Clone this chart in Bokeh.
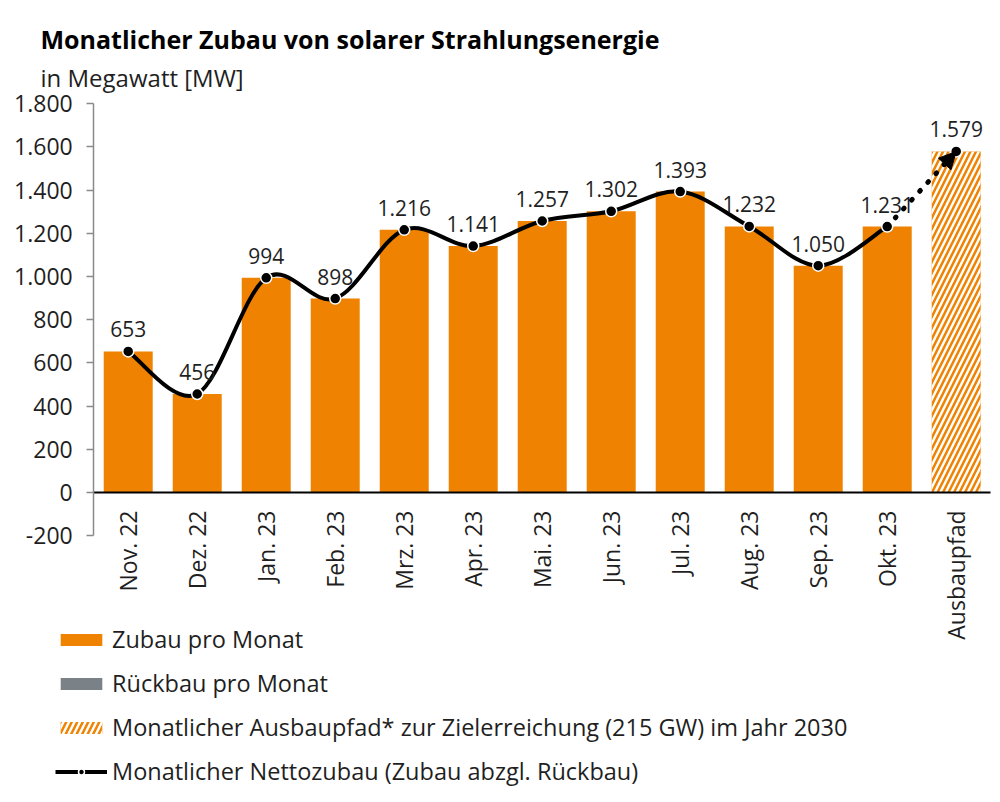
from bokeh.plotting import figure
from bokeh.models import (FixedTicker, Label, Legend, LegendItem, Arrow, NormalHead, Range1d)
from bokeh.core.properties import value
from bokeh.embed import file_html
from bokeh.resources import INLINE
import math

# ---- data ----
categories = ["Nov. 22", "Dez. 22", "Jan. 23", "Feb. 23", "Mrz. 23", "Apr. 23", "Mai. 23",
              "Jun. 23", "Jul. 23", "Aug. 23", "Sep. 23", "Okt. 23", "Ausbaupfad"]
zubau = [653, 456, 994, 898, 1216, 1141, 1257, 1302, 1393, 1232, 1050, 1231]
rueckbau = [0, 0, 0, 0, 0, 0, 0, 0, 0, 0, 0, 0]
netto = [653, 456, 994, 898, 1216, 1141, 1257, 1302, 1393, 1232, 1050, 1231]
ausbaupfad = 1579
value_labels = ["653", "456", "994", "898", "1.216", "1.141", "1.257", "1.302", "1.393",
                "1.232", "1.050", "1.231", "1.579"]
y_ticks = [-200, 0, 200, 400, 600, 800, 1000, 1200, 1400, 1600, 1800]
y_tick_labels = ["-200", "0", "200", "400", "600", "800", "1.000", "1.200", "1.400",
                 "1.600", "1.800"]

ORANGE = "#ef8200"
GRAY = "#7b8287"
FONT = "Open Sans"
TXT = "#1f1f1f"

W, H = 992, 802
n = len(zubau)
xs = list(range(n))
ncat = len(categories)

# the frame fills the whole canvas; axes are pinned inside it
p = figure(width=W, height=H, output_backend="svg", toolbar_location=None,
           x_range=Range1d(-1.851, -1.851 + W / 69.0),
           y_range=Range1d(-(H - 492) / 0.216, 492 / 0.216),
           min_border=0)
p.outline_line_color = None
p.grid.visible = False

# bars
bars = p.vbar(x=xs, top=zubau, width=0.71, fill_color=ORANGE, line_color=None)
rb = p.vbar(x=xs, top=[-v for v in rueckbau], width=0.71, fill_color=GRAY, line_color=None)
hb = p.vbar(x=[n], top=[ausbaupfad], width=0.71, fill_color=ORANGE, line_color=None,
            hatch_pattern="/", hatch_color="white", hatch_weight=2.5, hatch_scale=11)

# smooth curve through net points (cubic bezier, Catmull-Rom style control points)
pts = list(zip(xs, netto))
x0, y0, x1, y1, cx0, cy0, cx1, cy1 = [], [], [], [], [], [], [], []
for i in range(len(pts) - 1):
    pm = pts[i - 1] if i > 0 else pts[i]
    pa = pts[i]
    pb = pts[i + 1]
    pn = pts[i + 2] if i + 2 < len(pts) else pts[i + 1]
    x0.append(pa[0]); y0.append(pa[1]); x1.append(pb[0]); y1.append(pb[1])
    cx0.append(pa[0] + (pb[0] - pm[0]) / 6); cy0.append(pa[1] + (pb[1] - pm[1]) / 6)
    cx1.append(pb[0] - (pn[0] - pa[0]) / 6); cy1.append(pb[1] - (pn[1] - pa[1]) / 6)
curve = p.bezier(x0=x0, y0=y0, x1=x1, y1=y1, cx0=cx0, cy0=cy0, cx1=cx1, cy1=cy1,
                 line_color="black", line_width=4)

# dotted path to target with arrow
p.add_layout(Arrow(x_start=xs[-1], y_start=netto[-1], x_end=n, y_end=ausbaupfad,
                   line_color="black", line_width=5, line_dash="1 11", line_cap="round",
                   end=NormalHead(size=17, fill_color="black", line_color="black")))

# markers
all_x = xs + [n]
all_y = netto + [ausbaupfad]
dots = p.scatter(x=all_x, y=all_y, size=11, fill_color="black", line_color="white",
                 line_width=1.5)

# value labels
p.text(x=all_x, y=all_y, text=value_labels, text_align="center", text_baseline="alphabetic",
       y_offset=-22, text_font=value(FONT), text_font_size="21px", text_color=TXT)

# y axis pinned at the left edge of the category area
yax = p.yaxis[0]
yax.fixed_location = -0.5
yax.bounds = (y_ticks[0], y_ticks[-1])
yax.ticker = FixedTicker(ticks=y_ticks)
yax.major_label_overrides = dict(zip(y_ticks, y_tick_labels))
yax.axis_line_color = "#8a8a8a"
yax.axis_line_width = 1.5
yax.major_tick_line_color = "#8a8a8a"
yax.major_tick_line_width = 1.5
yax.major_tick_out = 7
yax.major_tick_in = 0
yax.minor_tick_line_color = None
yax.major_label_text_font = FONT
yax.major_label_text_font_size = "23px"
yax.major_label_text_color = TXT
yax.major_label_standoff = 14

# x axis pinned at zero (acts as the black zero line)
xax = p.xaxis[0]
xax.fixed_location = 0
xax.bounds = (-0.5, ncat - 0.5)
xax.ticker = FixedTicker(ticks=all_x)
xax.major_label_overrides = dict(zip(all_x, categories))
xax.major_label_orientation = math.pi / 2
xax.axis_line_color = "black"
xax.axis_line_width = 2
xax.major_tick_line_color = None
xax.minor_tick_line_color = None
xax.major_label_standoff = 12
xax.major_label_text_font = FONT
xax.major_label_text_font_size = "23px"
xax.major_label_text_color = TXT

# titles
p.add_layout(Label(x=40, y=H - 38, x_units="screen", y_units="screen",
                   text="Monatlicher Zubau von solarer Strahlungsenergie",
                   text_font=FONT, text_font_style="bold", text_font_size="25px",
                   text_color="black", text_baseline="alphabetic"))
p.add_layout(Label(x=40, y=H - 77, x_units="screen", y_units="screen",
                   text="in Megawatt [MW]", text_font=FONT, text_font_size="24px",
                   text_color=TXT, text_baseline="alphabetic"))

# legend
legend = Legend(items=[
    LegendItem(label="Zubau pro Monat", renderers=[bars]),
    LegendItem(label="Rückbau pro Monat", renderers=[rb]),
    LegendItem(label="Monatlicher Ausbaupfad* zur Zielerreichung (215 GW) im Jahr 2030",
               renderers=[hb]),
    LegendItem(label="Monatlicher Nettozubau (Zubau abzgl. Rückbau)", renderers=[curve, dots]),
], location=(55, 15), orientation="vertical")
legend.label_text_font = FONT
legend.label_text_font_size = "23.5px"
legend.label_text_color = TXT
legend.glyph_width = 52
legend.glyph_height = 15
legend.spacing = 12
legend.padding = 0
legend.margin = 0
legend.label_standoff = 5
legend.border_line_color = None
legend.background_fill_alpha = 0
p.add_layout(legend, "center")

open("out.html", "w").write(file_html(p, INLINE))
